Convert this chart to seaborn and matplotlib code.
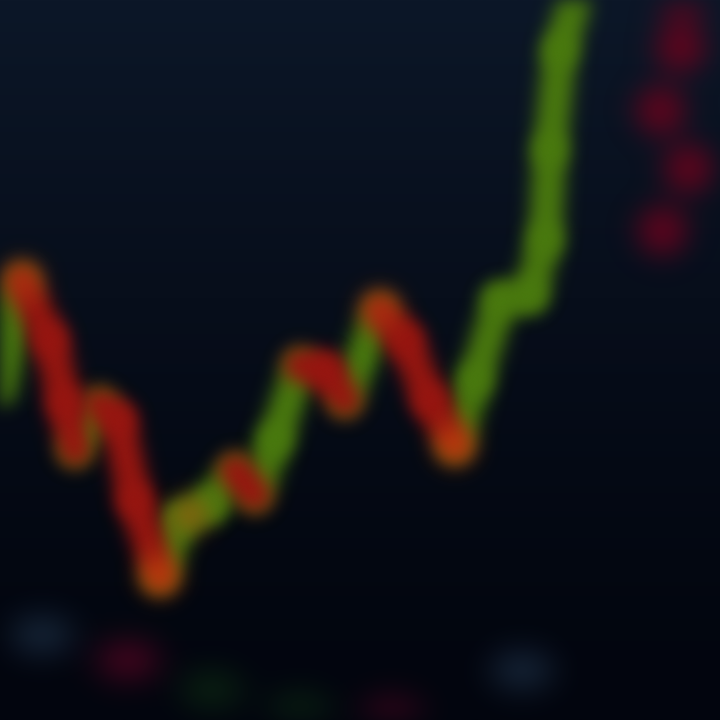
import numpy as np
import pandas as pd
import matplotlib.pyplot as plt
from matplotlib.path import Path
import seaborn as sns

# price path (time step, price index)
t = [0, 22, 50, 65, 75, 100, 118, 135, 160, 180, 210, 235, 255, 275, 300,
     325, 345, 380, 405, 430, 455, 475, 500, 530, 545, 550, 560, 575]
price = [45.8, 61.0, 52.8, 44.0, 37.5, 43.8, 41.7, 30.5, 20.0, 27.8, 29.9,
         34.7, 31.2, 38.9, 49.3, 48.6, 44.4, 56.9, 52.8, 44.4, 38.2, 47.2,
         58.3, 59.0, 66.7, 79.2, 93.0, 100.0]

# hot spots where the line glows orange
hot_t = [22, 160, 190, 380, 455]
hot_p = [61.0, 20.0, 28.5, 56.9, 38.2]
hot_w = ['mid', 'hi', 'mid', 'mid', 'hi']

# order book dots on the right
dot_t = [682, 680, 660, 688, 662]
dot_p = [100.5, 93.5, 84.7, 76.7, 68.1]

# blurred volume blobs along the bottom
vol_t = [42, 128, 212, 300, 392, 522]
vol_p = [11.8, 8.3, 4.2, 1.2, 0.4, 6.9]
vol_kind = ['neutral', 'down', 'up', 'up', 'down', 'neutral']


def blur(sigma):
    # gaussian blur used as an agg_filter (premultiplied alpha)
    def f(im, dpi):
        pad = int(3 * sigma)
        src = np.pad(im, [(pad, pad), (pad, pad), (0, 0)], 'constant')
        src[..., :3] *= src[..., 3:4]
        x = np.arange(-pad, pad + 1)
        k = np.exp(-0.5 * (x / sigma) ** 2)
        k /= k.sum()
        h, w = src.shape[:2]
        tmp = np.zeros_like(src)
        p2 = np.pad(src, [(pad, pad), (0, 0), (0, 0)], 'constant')
        for i, kv in enumerate(k):
            tmp += kv * p2[i:i + h]
        out = np.zeros_like(src)
        p3 = np.pad(tmp, [(0, 0), (pad, pad), (0, 0)], 'constant')
        for i, kv in enumerate(k):
            out += kv * p3[:, i:i + w]
        a = out[..., 3:4]
        out[..., :3] = np.where(a > 1e-6, out[..., :3] / np.maximum(a, 1e-6), 0)
        return np.clip(out, 0, 1), -pad, -pad
    return f


def soften(artists, sigma):
    for a in artists:
        a.set_agg_filter(blur(sigma))
        a.set_rasterized(True)


sns.set_theme(style='dark')

rows = []
for i in range(len(t) - 1):
    d = 'up' if price[i + 1] > price[i] else 'down'
    rows.append((i, t[i], price[i], d))
    rows.append((i, t[i + 1], price[i + 1], d))
seg = pd.DataFrame(rows, columns=['seg', 't', 'price', 'dir'])

fig = plt.figure(figsize=(7.2, 7.2), dpi=100)
ax = fig.add_axes([0, 0, 1, 1])

# background gradient
grad = np.linspace(0, 1, 256).reshape(-1, 1)
bg = np.zeros((256, 1, 3))
top = np.array([12, 23, 40]) / 255
bot = np.array([2, 5, 14]) / 255
bg[:, 0, :] = top * (1 - grad) ** 1.3 + bot * (1 - (1 - grad) ** 1.3)
ax.imshow(bg, extent=[0, 720, 0, 100], aspect='auto', zorder=0)

# volume blobs (wide ellipses)
circ = Path.unit_circle()
ell = Path(circ.vertices * [2.1, 1.0], circ.codes)
vol = pd.DataFrame({'t': vol_t, 'price': vol_p, 'kind': vol_kind})
vpal = {'neutral': '#22374f', 'down': '#6a0828', 'up': '#0f3014'}
n0 = len(ax.collections)
sns.scatterplot(data=vol, x='t', y='price', hue='kind', palette=vpal,
                s=2000, marker=ell, alpha=0.9, linewidth=0, legend=False,
                ax=ax, zorder=1)
soften(ax.collections[n0:], 12)

# order book dots
dots = pd.DataFrame({'t': dot_t, 'price': dot_p})
n0 = len(ax.collections)
sns.scatterplot(data=dots, x='t', y='price', s=1200, color='#64051e',
                linewidth=0, ax=ax, zorder=2)
soften(ax.collections[n0:], 10)

# price line, coloured by direction
pal = {'up': '#4a7a0e', 'down': '#981610'}
n0 = len(ax.lines)
sns.lineplot(data=seg, x='t', y='price', hue='dir', units='seg',
             estimator=None, palette=pal, linewidth=24, legend=False,
             ax=ax, solid_capstyle='round', zorder=3)
soften(ax.lines[n0:], 9)

hot = pd.DataFrame({'t': hot_t, 'price': hot_p, 'w': hot_w})
n0 = len(ax.collections)
sns.scatterplot(data=hot, x='t', y='price', hue='w',
                palette={'hi': '#e8680c', 'mid': '#c84a10'},
                s=480, alpha=0.8, linewidth=0, legend=False, ax=ax, zorder=4)
soften(ax.collections[n0:], 10)

ax.set_xlim(0, 720)
ax.set_ylim(0, 100)
ax.set_axis_off()

fig.savefig('out.png', dpi=100, facecolor='#050a16')
